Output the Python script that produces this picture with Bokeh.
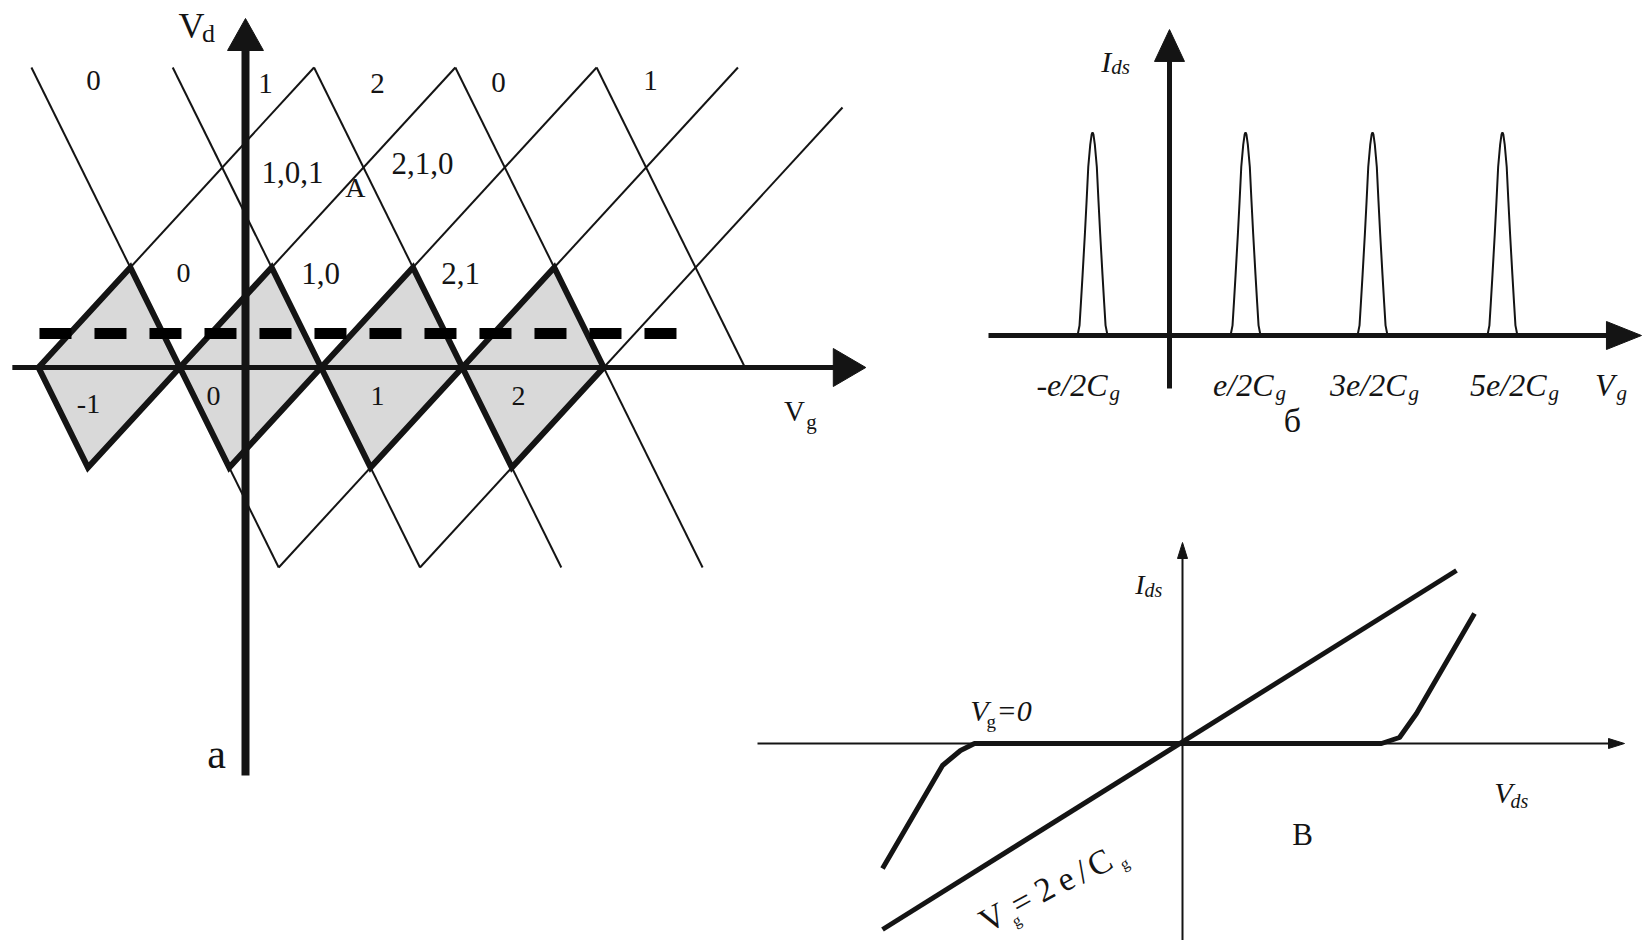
from bokeh.plotting import figure
from bokeh.models import Range1d
from bokeh.core.properties import value
from bokeh.embed import file_html
from bokeh.resources import INLINE

W, H = 1646, 940
SERIF = "Liberation Serif"
INK = "#141414"
SHADE = "#d9d9d9"

# ---------------- (a) Coulomb-diamond stability diagram ----------------
# Vg in units of e/Cg (Vd axis at Vg = 0), Vd in units of the diamond half-height
degeneracy_vg = [-1.465, -0.465, 0.535, 1.535, 2.535, 3.535]
rise_frac = 0.65          # Vg shift per unit Vd along "/" edges
fall_frac = 0.35          # Vg shift per unit Vd along "\" edges
diamond_charge = [-1, 0, 1, 2]
# thin continuation lines: (index of degeneracy point, Vd from, Vd to)
falling_lines = [(1, -2.0, 3.0), (2, -2.0, 3.0), (3, -2.0, 3.0), (4, -2.0, 3.0), (5, 0.0, 3.0)]
rising_lines = [(0, 0.0, 3.0), (1, -1.0, 3.0), (2, -1.0, 3.0), (3, -2.0, 3.0), (4, -2.0, 2.6)]
bias_vd = 0.34
bias_vg = [-1.458, 3.08]

state_text = ["0", "1", "2", "0", "1", "1,0,1", "A", "2,1,0", "0", "1,0", "2,1"]
state_vg = [-1.076, 0.142, 0.934, 1.790, 2.866, 0.333, 0.778, 1.253, -0.439, 0.531, 1.522]
state_vd = [2.87, 2.84, 2.84, 2.85, 2.87, 1.95, 1.80, 2.04, 0.95, 0.94, 0.94]
state_size = ["29px"] * 5 + ["31px", "28px", "31px", "28px", "31px", "31px"]
charge_vg = [-1.111, -0.226, 0.934, 1.932]
charge_vd = [-0.36, -0.28, -0.28, -0.28]

# ---------------- (б) conductance peaks ----------------
# Vg in units of e/Cg, Ids normalised to the peak height
peak_vg = [-0.503, 0.497, 1.327, 2.176]
peak_ids = [1.0, 1.0, 1.0, 1.0]
peak_half_width = [0.098, 0.085, 0.076, 0.065, 0.050, 0.039, 0.028, 0.015, 0.006, 0.0]
peak_shape = [0.0, 0.05, 0.16, 0.30, 0.50, 0.66, 0.83, 0.94, 0.99, 1.0]
tick_text = ["-e/2C", "e/2C", "3e/2C", "5e/2C"]
tick_vg = [-0.392, 0.693, 1.562, 2.477]

# ---------------- (в) I-V characteristics ----------------
open_vds = [-3.0, 2.74]
open_ids = [-1.86, 1.73]
blockade_vds = [-3.0, -2.4, -2.22, -2.08, 1.99, 2.17, 2.34, 2.92]
blockade_ids = [-1.25, -0.22, -0.07, 0.0, 0.0, 0.06, 0.30, 1.30]


def frame_ranges(x0, sx, y0, sy):
    """Ranges that put data origin at pixel (x0, y0) with sx, sy px per unit."""
    return (Range1d(-x0 / sx, (W - x0) / sx), Range1d((y0 - H) / sy, y0 / sy))


ax_x, ax_y = frame_ranges(245, 141.3, 367, 100)
bx_x, bx_y = frame_ranges(1169, 153, 335, 203)
cx_x, cx_y = frame_ranges(1182, 100, 743, 100)

p = figure(width=W, height=H, x_range=ax_x, y_range=ax_y,
           output_backend="svg", toolbar_location=None, min_border=0,
           x_axis_location=None, y_axis_location=None,
           background_fill_color="white", border_fill_color="white",
           outline_line_color=None)
p.grid.visible = False
p.extra_x_ranges = {"b": bx_x, "c": cx_x}
p.extra_y_ranges = {"b": bx_y, "c": cx_y}


def put_text(xs, ys, texts, size, rng="default", align="center", baseline="middle",
             italic=False, angle=0.0):
    p.text(x=xs, y=ys, text=texts, text_font=value(SERIF), text_font_size=size,
           text_font_style="italic" if italic else "normal",
           text_align=align, text_baseline=baseline, text_color=INK,
           angle=angle, angle_units="deg", x_range_name=rng, y_range_name=rng)


def arrow_up(x, base, tip, half, rng):
    p.patch([x - half, x + half, x], [base, base, tip], color=INK, line_width=1,
            x_range_name=rng, y_range_name=rng)


def arrow_right(y, base, tip, half, rng):
    p.patch([base, base, tip], [y - half, y + half, y], color=INK, line_width=1,
            x_range_name=rng, y_range_name=rng)


# ---- panel (a)
dx, dy = [], []
for i, _ in enumerate(diamond_charge):
    left, right = degeneracy_vg[i], degeneracy_vg[i + 1]
    dx.append([left, left + rise_frac, right, left + fall_frac])
    dy.append([0.0, 1.0, 0.0, -1.0])
p.patches(dx, dy, fill_color=SHADE, line_color=None)

thin_x, thin_y = [], []
for k, v0, v1 in falling_lines:
    a = degeneracy_vg[k]
    thin_x.append([a - fall_frac * v0, a - fall_frac * v1])
    thin_y.append([v0, v1])
for k, v0, v1 in rising_lines:
    a = degeneracy_vg[k]
    thin_x.append([a + rise_frac * v0, a + rise_frac * v1])
    thin_y.append([v0, v1])
p.multi_line(thin_x, thin_y, line_color=INK, line_width=2)

p.patches(dx, dy, fill_color=None, line_color=INK, line_width=6, line_join="miter")

p.line(bias_vg, [bias_vd, bias_vd], line_color="black", line_width=11, line_dash="32 23")

p.line([-1.65, 4.2], [0, 0], line_color=INK, line_width=5)
arrow_right(0.0, 4.16, 4.39, 0.19, "default")
p.line([0, 0], [-4.08, 3.2], line_color=INK, line_width=8)
arrow_up(0.0, 3.17, 3.49, 0.127, "default")

put_text(state_vg, state_vd, state_text, state_size)
put_text(charge_vg, charge_vd, [str(c) for c in diamond_charge], "28px")
put_text([-0.382], [3.42], ["V"], "36px")
put_text([-0.262], [3.34], ["d"], "26px")
put_text([3.885], [-0.43], ["V"], "29px")
put_text([4.005], [-0.54], ["g"], "21px")
put_text([-0.205], [-3.86], ["а"], "42px")

# ---- panel (б)
px, py = [], []
for c, h in zip(peak_vg, peak_ids):
    xs = [c - d for d in peak_half_width] + [c + d for d in reversed(peak_half_width[:-1])]
    ys = [h * s for s in peak_shape] + [h * s for s in reversed(peak_shape[:-1])]
    px.append(xs)
    py.append(ys)
p.multi_line(px, py, line_color=INK, line_width=2, x_range_name="b", y_range_name="b")

p.line([-1.183, 2.87], [0, 0], line_color=INK, line_width=5, x_range_name="b", y_range_name="b")
arrow_right(0.0, 2.856, 3.085, 0.069, "b")
p.line([0, 0], [-0.261, 1.36], line_color=INK, line_width=5, x_range_name="b", y_range_name="b")
arrow_up(0.0, 1.35, 1.507, 0.098, "b")

put_text([t - 0.013 for t in tick_vg], [-0.246] * 4, tick_text, "32px", "b",
         align="right", italic=True)
put_text(tick_vg, [-0.281] * 4, ["g"] * 4, "21px", "b", align="left", italic=True)
put_text([2.909], [-0.246], ["V"], "32px", "b", align="right", italic=True)
put_text([2.922], [-0.281], ["g"], "21px", "b", align="left", italic=True)
put_text([-0.38], [1.35], ["I"], "30px", "b", align="right", italic=True)
put_text([-0.38], [1.325], ["ds"], "21px", "b", align="left", italic=True)
put_text([0.804], [-0.419], ["б"], "34px", "b")

# ---- panel (в)
p.line([-4.25, 4.3], [0, 0], line_color=INK, line_width=2, x_range_name="c", y_range_name="c")
arrow_right(0.0, 4.26, 4.42, 0.05, "c")
p.line([0, 0], [-1.97, 1.9], line_color=INK, line_width=2, x_range_name="c", y_range_name="c")
arrow_up(0.0, 1.85, 2.01, 0.05, "c")

p.line(open_vds, open_ids, line_color=INK, line_width=5, x_range_name="c", y_range_name="c")
p.line(blockade_vds, blockade_ids, line_color=INK, line_width=5, line_join="round",
       x_range_name="c", y_range_name="c")

put_text([-0.38], [1.59], ["I"], "28px", "c", align="right", italic=True)
put_text([-0.38], [1.54], ["ds"], "20px", "c", align="left", italic=True)
put_text([-1.94], [0.33], ["V"], "30px", "c", align="right", italic=True)
put_text([-1.96], [0.22], ["g"], "19px", "c", align="left")
put_text([-1.86], [0.33], ["=0"], "30px", "c", align="left", italic=True)
put_text([3.30], [-0.49], ["V"], "30px", "c", align="right", italic=True)
put_text([3.28], [-0.57], ["ds"], "20px", "c", align="left", italic=True)
put_text([1.20], [-0.91], ["В"], "31px", "c")

# label written along the open-channel line
put_text([-1.90, -1.61, -1.38, -1.17, -1.01, -0.83], [-1.74, -1.58, -1.46, -1.36, -1.28, -1.19],
         ["V", "=", "2", "e", "/", "C"], "34px", "c", angle=29)
put_text([-1.66, -0.58], [-1.77, -1.20], ["g", "g"], "16px", "c", angle=29)

open("out.html", "w").write(file_html(p, INLINE))
